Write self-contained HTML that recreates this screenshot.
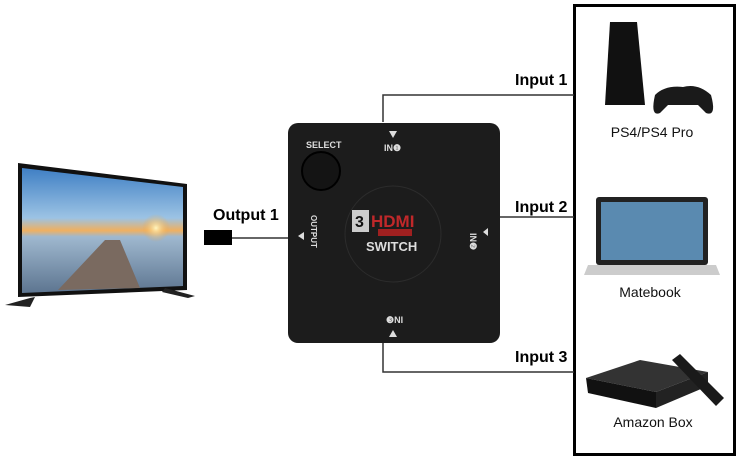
<!DOCTYPE html><html><head><style>body{margin:0;background:#fff}svg{display:block}text{font-family:"Liberation Sans",sans-serif}</style></head><body>
<svg width="740" height="461" viewBox="0 0 740 461">
<defs>
<linearGradient id="sky" x1="0" y1="0" x2="0" y2="1"><stop offset="0" stop-color="#3f7fc4"/><stop offset="0.4" stop-color="#9cc3e4"/><stop offset="0.5" stop-color="#f0b060"/><stop offset="0.55" stop-color="#9fb8cf"/><stop offset="1" stop-color="#5d7590"/></linearGradient>
<radialGradient id="sun" cx="0.5" cy="0.5" r="0.5"><stop offset="0" stop-color="#fff6c0"/><stop offset="1" stop-color="#f6a030" stop-opacity="0"/></radialGradient>
</defs>
<!-- right box -->
<rect x="574.5" y="5.5" width="160" height="449" fill="#fff" stroke="#000" stroke-width="3"/>
<!-- connector lines -->
<polyline points="383,122 383,95 574,95" fill="none" stroke="#333" stroke-width="1.5"/>
<line x1="500" y1="217" x2="574" y2="217" stroke="#333" stroke-width="1.5"/>
<polyline points="383,343 383,372 574,372" fill="none" stroke="#333" stroke-width="1.5"/>
<line x1="232" y1="238" x2="288" y2="238" stroke="#333" stroke-width="1.5"/>
<rect x="204" y="230" width="28" height="15" fill="#000"/>
<!-- labels -->
<g font-weight="bold" font-size="16" fill="#000">
<text x="515" y="85">Input 1</text>
<text x="515" y="212">Input 2</text>
<text x="515" y="362">Input 3</text>
<text x="213" y="220">Output 1</text>
</g>
<g font-size="14" fill="#111" text-anchor="middle">
<text x="652" y="137">PS4/PS4 Pro</text>
<text x="650" y="297">Matebook</text>
<text x="653" y="427">Amazon Box</text>
</g>
<!-- TV -->
<polygon points="18,163 187,184 187,290 18,297" fill="#111"/>
<polygon points="22,168 183,187 183,286 22,293" fill="url(#sky)"/>
<circle cx="156" cy="228" r="14" fill="url(#sun)"/>
<polygon points="58,290 105,240 120,240 140,288" fill="#7a6a60"/>
<path d="M30,298 L5,305 L30,307 L35,297Z M165,288 L195,296 L188,298 L162,292Z" fill="#222"/>
<!-- switch -->
<rect x="288" y="123" width="212" height="220" rx="10" fill="#1c1c1c"/>
<circle cx="393" cy="234" r="48" fill="none" stroke="#2c2c2c"/>
<circle cx="321" cy="171" r="19" fill="#141414" stroke="#000" stroke-width="2"/>
<g fill="#ddd" font-weight="bold" font-size="9">
<text x="306" y="148">SELECT</text>
<text x="384" y="151">IN❶</text>
<text x="386" y="323" >❸NI</text>
<text x="366" y="251" font-size="13">SWITCH</text>
</g>
<text transform="translate(311,215) rotate(90)" fill="#ddd" font-size="8" font-weight="bold">OUTPUT</text>
<text transform="translate(470,233) rotate(90)" fill="#ddd" font-size="9" font-weight="bold">IN❷</text>
<polygon points="389,131 397,131 393,138" fill="#ddd"/>
<polygon points="389,337 397,337 393,330" fill="#ddd"/>
<polygon points="298,232 298,240 304,236" transform="rotate(180 301 236)" fill="#ddd"/>
<polygon points="483,228 483,236 488,232" transform="rotate(180 485.5 232)" fill="#ddd"/>
<rect x="352" y="210" width="17" height="22" fill="#ccc"/>
<text x="355" y="227" font-size="16" font-weight="bold" fill="#111">3</text>
<text x="371" y="227" font-size="17" font-weight="bold" fill="#c0282a">HDMI</text>
<rect x="378" y="229" width="34" height="7" fill="#a02020"/>
<!-- PS4 -->
<polygon points="610,22 637,22 645,105 605,105" fill="#111"/>
<path d="M655,95 q10,-10 28,-8 q15,-4 28,8 q6,22 -5,18 l-8,-8 h-30 l-8,8 q-10,4 -5,-18z" fill="#1a1a1a"/>
<!-- laptop -->
<rect x="596" y="197" width="112" height="68" rx="3" fill="#222"/>
<rect x="601" y="202" width="102" height="58" fill="#5a8ab0"/>
<polygon points="588,265 716,265 720,275 584,275" fill="#ccc"/>
<!-- Amazon box -->
<polygon points="586,378 640,360 708,372 656,392" fill="#333"/>
<polygon points="586,378 656,392 656,408 588,393" fill="#111"/>
<polygon points="656,392 708,372 708,386 656,408" fill="#222"/>
<polygon points="672,360 680,354 724,398 716,406" fill="#1a1a1a"/>
</svg>
</body></html>
